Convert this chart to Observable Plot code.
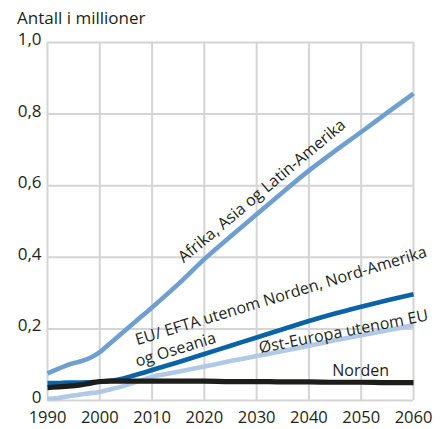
<!DOCTYPE html>
<html><head><meta charset="utf-8">
<script src="https://cdn.jsdelivr.net/npm/d3@7"></script>
<script src="https://cdn.jsdelivr.net/npm/@observablehq/plot@0.6"></script>
<style>
body{margin:0;background:#fff;font-family:"Open Sans",sans-serif;color:#231f20;}
#title{height:19px;padding-top:9px;padding-left:17px;font-size:17px;line-height:17px;}
</style></head><body>
<div id="title">Antall i millioner</div>
<div id="chart"></div>
<script>
const years = [1990,1992,1994,1996,1998,2000,2002,2004,2006,2008,2010,2015,2020,2025,2030,2035,2040,2045,2050,2055,2060];
const afrika = [0.076,0.088,0.100,0.108,0.118,0.135,0.160,0.185,0.210,0.235,0.260,0.325,0.395,0.458,0.520,0.582,0.642,0.697,0.750,0.804,0.857];
const euEfta = [0.049,0.049,0.050,0.050,0.051,0.052,0.055,0.060,0.068,0.076,0.085,0.107,0.130,0.153,0.176,0.199,0.222,0.243,0.262,0.280,0.297];
const ostEuropa = [0.005,0.007,0.012,0.016,0.020,0.024,0.031,0.038,0.047,0.057,0.066,0.080,0.095,0.110,0.124,0.138,0.153,0.168,0.182,0.196,0.210];
const norden = [0.036,0.038,0.040,0.043,0.048,0.053,0.054,0.054,0.054,0.054,0.054,0.054,0.054,0.053,0.053,0.052,0.052,0.051,0.051,0.050,0.050];
const xTicks = [1990,2000,2010,2020,2030,2040,2050,2060];
const yTicks = [0,0.2,0.4,0.6,0.8,1.0];
const labelText = ["Afrika, Asia og Latin-Amerika","EU/ EFTA utenom Norden, Nord-Amerika","og Oseania","Øst-Europa utenom EU","Norden"];
const labelX = [2031.0,2006.9,2006.9,2046.6,2049.9];
const labelY = [0.585,0.168,0.108,0.192,0.084];
const labelRotate = [-40,-17,-17,-11,0];
const labelAnchor = ["middle","start","start","middle","middle"];

const mk = (vals) => years.map((y,i)=>({year:y, v:vals[i]}));
const labels = labelText.map((t,i)=>({t, x:labelX[i], y:labelY[i], r:labelRotate[i], a:labelAnchor[i]}));

const fmtY = d => d === 0 ? "0" : d.toFixed(1).replace(".", ",");
const lineOpts = (color) => ({x:"year", y:"v", stroke:color, strokeWidth:4.6, curve:"monotone-x", strokeLinecap:"butt"});

const chart = Plot.plot({
  width:445, height:401,
  marginTop:14, marginBottom:29, marginLeft:47, marginRight:32,
  style:{fontFamily:"Open Sans, sans-serif", color:"#231f20", background:"#fff"},
  x:{domain:[1990,2060]},
  y:{domain:[0,1]},
  marks:[
    Plot.gridX(xTicks,{stroke:"#d4d4d4", strokeWidth:2, strokeOpacity:1}),
    Plot.gridY(yTicks,{stroke:"#d4d4d4", strokeWidth:2, strokeOpacity:1}),
    Plot.axisX(xTicks,{tickSize:0, tickPadding:11, fontSize:16.5, tickFormat:d=>String(d), label:null}),
    Plot.axisY(yTicks,{tickSize:0, tickPadding:6, fontSize:17, dy:-3, tickFormat:fmtY, label:null}),
    Plot.line(mk(afrika), lineOpts("#6f9fcf")),
    Plot.line(mk(ostEuropa), lineOpts("#b2c9e6")),
    Plot.line(mk(euEfta), lineOpts("#0b63a5")),
    Plot.line(mk(norden), {...lineOpts("#1d1d1b"), strokeWidth:5.2}),
    ...labels.map(l => Plot.text([l], {x:"x", y:"y", text:"t", rotate:l.r, textAnchor:l.a, fontSize:16, fill:"#231f20"}))
  ]
});
document.getElementById("chart").appendChild(chart);
</script>
</body></html>
